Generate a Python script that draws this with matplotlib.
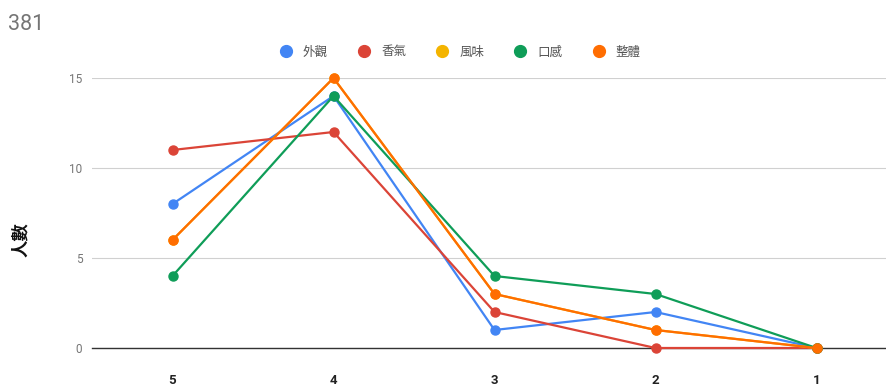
import matplotlib
matplotlib.use("Agg")
import matplotlib.pyplot as plt

# 評分 5 -> 1 各項目人數
scores = ["5", "4", "3", "2", "1"]
appearance = [8, 14, 1, 2, 0]   # 外觀
aroma = [11, 12, 2, 0, 0]       # 香氣
flavor = [6, 15, 3, 1, 0]       # 風味
texture = [4, 14, 4, 3, 0]      # 口感
overall = [6, 15, 3, 1, 0]      # 整體

series = [
    ("外觀", appearance, "#4285F4"),
    ("香氣", aroma, "#DB4437"),
    ("風味", flavor, "#F4B400"),
    ("口感", texture, "#0F9D58"),
    ("整體", overall, "#FF6D01"),
]

plt.rcParams["font.family"] = ["Roboto", "Noto Sans CJK TC", "DejaVu Sans"]

fig = plt.figure(figsize=(8.87, 3.87), dpi=100)
ax = fig.add_axes([92 / 887, 39 / 387, 805 / 887, 270 / 387])

x = list(range(len(scores)))
for name, vals, color in series:
    ax.plot(x, vals, color=color, lw=1.6, marker="o", ms=6.5,
            label=name, clip_on=False, zorder=3)

ax.set_xlim(-0.5, 4.5)
ax.set_ylim(0, 15)
ax.set_yticks([0, 5, 10, 15])
ax.set_xticks(x)
ax.set_xticklabels(scores, fontweight="bold", fontsize=9.5, color="#222222")
ax.tick_params(axis="x", length=0, pad=19)
ax.tick_params(axis="y", length=0, pad=7, labelsize=8.5, labelcolor="#757575")
ax.grid(axis="y", color="#d0d0d0", lw=0.8)
ax.set_axisbelow(True)
for side in ["top", "right", "left"]:
    ax.spines[side].set_visible(False)
ax.spines["bottom"].set_color("#333333")
ax.spines["bottom"].set_linewidth(1.0)

ax.set_ylabel("人數", fontsize=12.5, color="#111111",
              family=["Noto Sans CJK TC"], fontweight="bold")
ax.yaxis.set_label_coords(-62 / 805, 0.4)

fig.text(8 / 887, 1 - 24 / 387, "381", fontsize=15.5, color="#757575",
         va="center", ha="left")

handles = [plt.Line2D([], [], ls="none", marker="o", ms=8.5, color=c)
           for _, _, c in series]
fig.legend(handles, [n for n, _, _ in series], loc="center",
           bbox_to_anchor=(457 / 887, 1 - 52 / 387), ncol=5, frameon=False,
           labelcolor="#555555", handletextpad=0.35, columnspacing=1.9,
           prop={"family": ["Noto Sans CJK TC"], "size": 9})

fig.savefig("out.png", dpi=100)
